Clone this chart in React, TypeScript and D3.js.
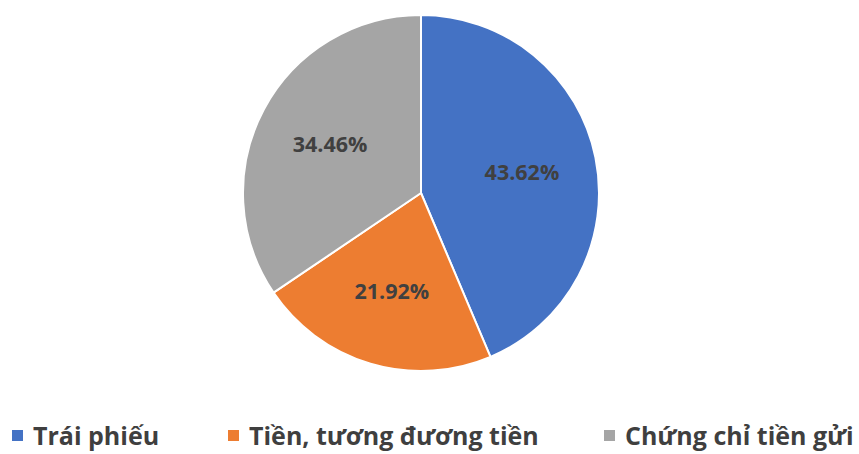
import { useEffect, useRef } from 'react';
import * as d3 from 'd3';

const categories = ['Trái phiếu', 'Tiền, tương đương tiền', 'Chứng chỉ tiền gửi'];
const shares = [43.62, 21.92, 34.46];
const colors = ['#4472C4', '#ED7D31', '#A5A5A5'];

type Slice = { name: string; value: number; color: string };

const slices: Slice[] = categories.map((name, i) => ({
	name,
	value: shares[i],
	color: colors[i],
}));

export default function App() {
	const svgRef = useRef<SVGSVGElement | null>(null);
	const width = 859;
	const height = 454;

	useEffect(() => {
		if (!svgRef.current) return;
		const svg = d3.select(svgRef.current);
		svg.selectAll('*').remove();

		const cx = 421;
		const cy = 193;
		const radius = 178;

		const pie = d3
			.pie<Slice>()
			.value((d) => d.value)
			.sort(null);

		const arc = d3.arc<d3.PieArcDatum<Slice>>().innerRadius(0).outerRadius(radius);
		const labelArc = d3
			.arc<d3.PieArcDatum<Slice>>()
			.innerRadius(103)
			.outerRadius(103);

		const arcs = pie(slices);
		const g = svg.append('g').attr('transform', `translate(${cx},${cy})`);

		g.selectAll('path')
			.data(arcs)
			.join('path')
			.attr('d', arc)
			.attr('fill', (d) => d.data.color)
			.attr('stroke', '#fff')
			.attr('stroke-width', 2)
			.attr('stroke-linejoin', 'round');

		// data labels
		g.selectAll('text')
			.data(arcs)
			.join('text')
			.attr('transform', (d) => `translate(${labelArc.centroid(d)})`)
			.attr('text-anchor', 'middle')
			.attr('dy', '0.35em')
			.style('font-family', '"Open Sans", sans-serif')
			.style('font-size', '21.5px')
			.style('font-weight', 'bold')
			.style('fill', '#404040')
			.text((d) => `${d.data.value.toFixed(2)}%`);

		// Legend
		const legendX = [12, 228, 604];
		const legend = svg
			.append('g')
			.selectAll('g')
			.data(slices)
			.join('g')
			.attr('transform', (_, i) => `translate(${legendX[i]},436)`);

		legend
			.append('rect')
			.attr('x', 0)
			.attr('y', -6)
			.attr('width', 11)
			.attr('height', 11)
			.attr('fill', (d) => d.color);

		legend
			.append('text')
			.attr('x', 21)
			.attr('dy', '0.35em')
			.style('font-family', '"Open Sans", sans-serif')
			.style('font-size', '25px')
			.style('font-weight', 'bold')
			.style('fill', '#3f3f3f')
			.text((d) => d.name);
	}, []);

	return (
		<div style={{ position: 'absolute', left: 0, top: 0 }}>
			<svg ref={svgRef} width={width} height={height} style={{ display: 'block', background: '#fff' }} />
		</div>
	);
}
